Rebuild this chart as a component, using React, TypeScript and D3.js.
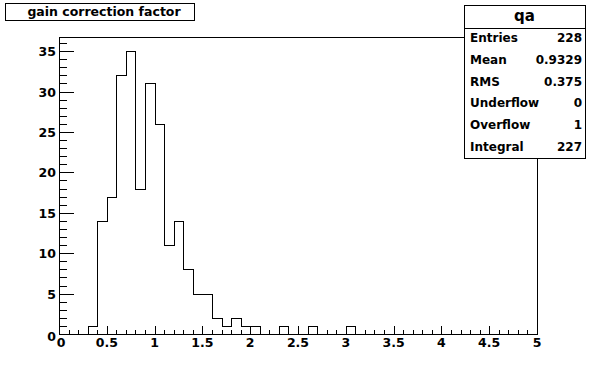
import React from "react";
import * as d3 from "d3";

const binEdges: number[] = d3.range(0, 51).map((i) => i / 10);
// counts per 0.1-wide bin from 0 to 5
const counts: number[] = [
  0, 0, 0, 1, 14, 17, 32, 35, 18, 31,
  26, 11, 14, 8, 5, 5, 2, 1, 2, 1,
  1, 0, 0, 1, 0, 0, 1, 0, 0, 0,
  1, 0, 0, 0, 0, 0, 0, 0, 0, 0,
  0, 0, 0, 0, 0, 0, 0, 0, 0, 0,
];
const xTickLabels: string[] = ["0", "0.5", "1", "1.5", "2", "2.5", "3", "3.5", "4", "4.5", "5"];
const xTickValues: number[] = [0, 0.5, 1, 1.5, 2, 2.5, 3, 3.5, 4, 4.5, 5];
const yTickValues: number[] = [0, 5, 10, 15, 20, 25, 30, 35];
const statLabels: string[] = ["Entries", "Mean", "RMS", "Underflow", "Overflow", "Integral"];
const statValues: string[] = ["228", "0.9329", "0.375", "0", "1", "227"];
const histName = "qa";
const title = "gain correction factor";

const W = 596;
const H = 372;
const FL = 59, FR = 537, FT = 37, FB = 334;
const FONT = "'DejaVu Sans', sans-serif";

export default function App() {
  const x = d3.scaleLinear().domain([0, 5]).range([FL, FR]);
  const yMax = (d3.max(counts) as number) * 1.05;
  const y = d3.scaleLinear().domain([0, yMax]).range([FB, FT]);

  // step path
  let path = `M${x(binEdges[0])},${y(0)}`;
  counts.forEach((c, i) => {
    path += `L${x(binEdges[i])},${y(c)}L${x(binEdges[i + 1])},${y(c)}`;
  });
  path += `L${x(binEdges[binEdges.length - 1])},${y(0)}`;

  const xMinor = d3.range(0, 51).map((i) => i / 10);
  const yMinor = d3.range(0, 37);

  const bx0 = 464, bx1 = 585, by0 = 5, byH = 28, by1 = 158;
  const rowH = (by1 - byH) / statLabels.length;

  return (
    <svg
      width={W}
      height={H}
      style={{ position: "absolute", left: 0, top: 0, background: "#fff" }}
      shapeRendering="crispEdges"
    >
      <rect x={0} y={0} width={W} height={H} fill="#fff" />
      {/* frame */}
      <rect x={FL + 0.5} y={FT + 0.5} width={FR - FL} height={FB - FT} fill="none" stroke="#000" />
      {/* x ticks */}
      {xMinor.map((v, i) => {
        const major = i % 5 === 0;
        const px = Math.round(x(v)) + 0.5;
        return <line key={"xt" + i} x1={px} x2={px} y1={FB + 0.5} y2={FB + 0.5 - (major ? 9 : 5)} stroke="#000" />;
      })}
      {/* y ticks */}
      {yMinor.map((v, i) => {
        const major = v % 5 === 0;
        const py = Math.round(y(v)) + 0.5;
        return <line key={"yt" + i} x1={FL + 0.5} x2={FL + 0.5 + (major ? 14 : 7)} y1={py} y2={py} stroke="#000" />;
      })}
      {/* histogram */}
      <path d={path} fill="none" stroke="#000" strokeWidth={1} transform="translate(0.5,0.5)" />
      {/* x labels */}
      {xTickValues.map((v, i) => (
        <text key={"xl" + i} x={x(v) + (i === 0 ? 2 : 0)} y={FB + 13} textAnchor="middle" fontFamily={FONT} fontWeight="bold" fontSize={12.5} fill="#000">
          {xTickLabels[i]}
        </text>
      ))}
      {/* y labels */}
      {yTickValues.map((v, i) => (
        <text key={"yl" + i} x={FL - 3} y={y(v) + 5 + (v === 0 ? 2 : 0)} textAnchor="end" fontFamily={FONT} fontWeight="bold" fontSize={12.5} fill="#000">
          {String(v)}
        </text>
      ))}
      {/* title box */}
      <rect x={5.5} y={3.5} width={189} height={17} fill="#fff" stroke="#000" />
      <text x={104} y={16} textAnchor="middle" fontFamily={FONT} fontWeight="bold" fontSize={12.5} fill="#000">
        {title}
      </text>
      {/* stats box */}
      <rect x={bx0 + 0.5} y={by0 + 0.5} width={bx1 - bx0} height={by1 - by0} fill="#fff" stroke="#000" />
      <line x1={bx0} x2={bx1} y1={byH + 0.5} y2={byH + 0.5} stroke="#000" />
      <text x={(bx0 + bx1) / 2} y={21} textAnchor="middle" fontFamily={FONT} fontWeight="bold" fontSize={15} fill="#000">
        {histName}
      </text>
      {statLabels.map((lab, i) => {
        const cy = byH + rowH * (i + 0.45);
        return (
          <g key={"st" + i}>
            <text x={bx0 + 6} y={cy + 4.5} fontFamily={FONT} fontWeight="bold" fontSize={12} fill="#000">
              {lab}
            </text>
            <text x={bx1 - 3} y={cy + 4.5} textAnchor="end" fontFamily={FONT} fontWeight="bold" fontSize={12} fill="#000">
              {statValues[i]}
            </text>
          </g>
        );
      })}
    </svg>
  );
}
